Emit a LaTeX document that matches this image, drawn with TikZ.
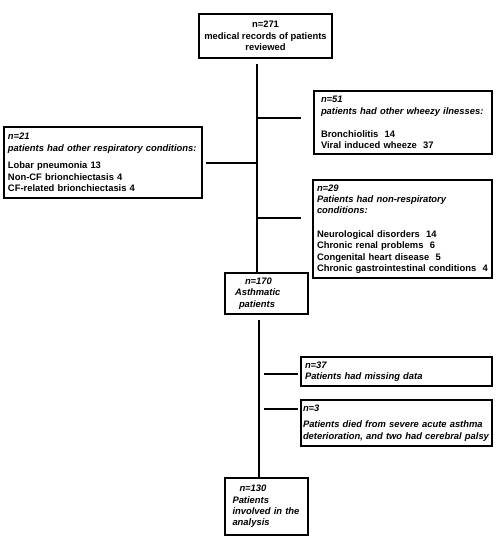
\documentclass[tikz,border=0pt]{standalone}
\usepackage{fontspec}
\setmainfont{Liberation Sans}
\begin{document}
\begin{tikzpicture}[x=1pt, y=-1pt,
    box/.style={draw, line width=1.3pt, align=left, inner ysep=0pt,
        font=\fontsize{9.4}{11.3}\selectfont\bfseries},
    link/.style={line width=1.4pt}]
    \useasboundingbox (0,0) rectangle (500,541);

    \node[box, align=center, minimum width=133pt, minimum height=44pt] (rev) at (265.5, 36) {n=271\\medical records of patients\\reviewed};
    \node[box, minimum width=198pt, minimum height=71pt, text width=190pt, inner xsep=4pt] (other) at (103, 162.5) {\textit{n=21}\\\textit{patients had other respiratory conditions:}\\[6.5pt]Lobar pneumonia 13\\Non-CF brionchiectasis 4\\CF-related brionchiectasis 4};
    \node[box, minimum width=178pt, minimum height=63pt, text width=164pt, inner xsep=7pt] (wheezy) at (403, 122.5) {\textit{n=51}\\\textit{patients had other wheezy ilnesses:}\\[12pt]Bronchiolitis\ \ 14\\Viral induced wheeze\ \ 37};
    \node[box, minimum width=179pt, minimum height=98pt, text width=171pt, inner xsep=4pt] (nonresp) at (402.5, 229) {\textit{n=29}\\\textit{Patients had non-respiratory}\\\textit{conditions:}\\[12.5pt]Neurological disorders\ \ 14\\Chronic renal problems\ \ 6\\Congenital heart disease\ \ 5\\Chronic gastrointestinal conditions\ \ 4};
    \node[box, minimum width=83pt, minimum height=41pt, text width=63pt, inner xsep=10pt] (asthma) at (266.5, 293.5) {\textit{\hspace*{10pt}n=170\\Asthmatic\\\hspace*{4pt}patients}};
    \node[box, minimum width=191pt, minimum height=29pt, text width=183pt, inner xsep=4pt] (missing) at (396.5, 371.5) {\textit{n=37}\\\textit{Patients had missing data}};
    \node[box, minimum width=191pt, minimum height=46pt, text width=187pt, inner xsep=2pt] (died) at (396.5, 423) {\textit{n=3}\\[5pt]\textit{Patients died from severe acute asthma}\\\textit{deterioration, and two had cerebral palsy}};
    \node[box, minimum width=83pt, minimum height=57pt, text width=68pt, inner xsep=7.5pt] (analysis) at (266.5, 506.5) {\textit{\hspace*{7pt}n=130\\Patients\\involved in the\\analysis}};

    \coordinate (sp) at (257, 0);
    \coordinate (sp2) at (259, 0);
    \coordinate (j1) at (257, 118);
    \coordinate (j2) at (257, 163);
    \coordinate (j3) at (257, 218);
    \coordinate (j4) at (259, 374);
    \coordinate (j5) at (259, 409);

    \draw[link, shorten <=5pt] (rev.south -| sp) -- (asthma.north -| sp);
    \draw[link, shorten <=5pt] (asthma.south -| sp2) -- (analysis.north -| sp2);
    \draw[link, shorten >=12pt] (j1) -- (j1 -| wheezy.west);
    \draw[link, shorten >=3pt] (j2) -- (j2 -| other.east);
    \draw[link, shorten >=11pt] (j3) -- (j3 -| nonresp.west);
    \draw[link, shorten <=5pt, shorten >=2pt] (j4) -- (j4 -| missing.west);
    \draw[link, shorten <=5pt, shorten >=2pt] (j5) -- (j5 -| died.west);
\end{tikzpicture}
\end{document}
